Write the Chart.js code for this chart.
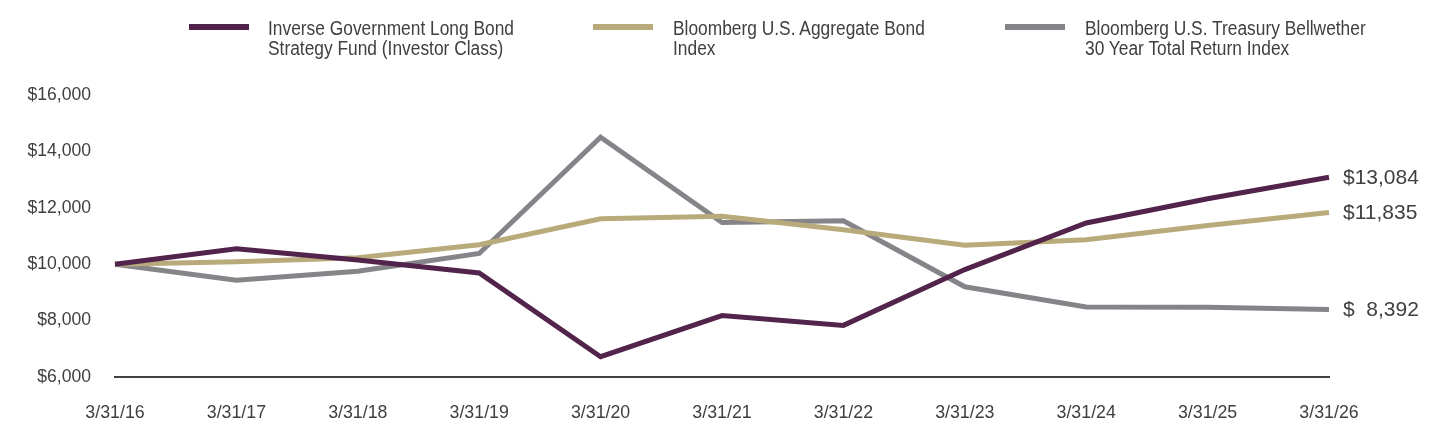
<!DOCTYPE html>
<html>
<head>
<meta charset="utf-8">
<script src="https://cdn.jsdelivr.net/npm/chart.js@4.4.1/dist/chart.umd.min.js"></script>
<style>
  html, body { margin: 0; padding: 0; background: #ffffff; }
  #wrap { position: relative; width: 1440px; height: 444px; overflow: hidden; }
  #c { position: absolute; left: 0; top: 0; }
  .leg { position: absolute; top: 18px; font-family: "Liberation Sans", Arial, sans-serif; font-size: 19.5px; line-height: 20px; color: #404040; white-space: nowrap; transform: scaleX(0.89); transform-origin: 0 0; }
  .sw { position: absolute; top: 24px; width: 60px; height: 6px; }
</style>
</head>
<body>
<div id="wrap">
  <canvas id="c" width="1440" height="444"></canvas>
</div>
<script>
const categories = ["3/31/16","3/31/17","3/31/18","3/31/19","3/31/20","3/31/21","3/31/22","3/31/23","3/31/24","3/31/25","3/31/26"];
const fundValues = [10000, 10550, 10150, 9690, 6720, 8180, 7830, 9810, 11460, 12320, 13084];
const aggValues = [10000, 10090, 10230, 10690, 11610, 11700, 11220, 10670, 10870, 11370, 11835];
const treasuryValues = [10000, 9430, 9750, 10380, 14500, 11480, 11540, 9200, 8480, 8470, 8392];
const seriesNames = [
  ["Inverse Government Long Bond", "Strategy Fund (Investor Class)"],
  ["Bloomberg U.S. Aggregate Bond", "Index"],
  ["Bloomberg U.S. Treasury Bellwether", "30 Year Total Return Index"]
];
const endLabels = ["$13,084", "$11,835", "$  8,392"];
const yTicks = [6000, 8000, 10000, 12000, 14000, 16000];
const colors = ["#52234b", "#b9aa7b", "#858589"];

// HTML legend
const legendX = [189, 593, 1005];
const textX = [268, 673, 1085];
const wrap = document.getElementById('wrap');
seriesNames.forEach((lines, i) => {
  const sw = document.createElement('div');
  sw.className = 'sw';
  sw.style.left = legendX[i] + 'px';
  sw.style.background = colors[i];
  wrap.appendChild(sw);
  const t = document.createElement('div');
  t.className = 'leg';
  t.style.left = textX[i] + 'px';
  t.innerHTML = lines.join('<br>');
  wrap.appendChild(t);
});

const sans = '"Liberation Sans", Arial, sans-serif';

const endLabelPlugin = {
  id: 'endLabels',
  afterDatasetsDraw(chart) {
    const ctx = chart.ctx;
    ctx.save();
    ctx.font = '21px ' + sans;
    ctx.fillStyle = '#404040';
    ctx.textAlign = 'left';
    ctx.textBaseline = 'middle';
    chart.data.datasets.forEach((ds, i) => {
      const meta = chart.getDatasetMeta(i);
      const pt = meta.data[meta.data.length - 1];
      ctx.fillText(endLabels[i], pt.x + 14, pt.y + 1);
    });
    ctx.restore();
  }
};

new Chart(document.getElementById('c'), {
  type: 'line',
  data: {
    labels: categories,
    datasets: [
      { label: seriesNames[0].join(' '), data: fundValues, borderColor: colors[0] },
      { label: seriesNames[1].join(' '), data: aggValues, borderColor: colors[1] },
      { label: seriesNames[2].join(' '), data: treasuryValues, borderColor: colors[2] }
    ].map(d => Object.assign(d, {
      borderWidth: 5, pointRadius: 0, fill: false, tension: 0,
      borderJoinStyle: 'miter', borderCapStyle: 'butt'
    }))
  },
  options: {
    responsive: false,
    animation: false,
    devicePixelRatio: 1,
    layout: { padding: { left: 0, right: 111, top: 95, bottom: 0 } },
    plugins: { legend: { display: false }, tooltip: { enabled: false } },
    scales: {
      x: {
        grid: { display: false, drawTicks: false },
        border: { display: true, color: '#404040', width: 2 },
        ticks: { color: '#404040', font: { family: sans, size: 17.8 }, padding: 25, maxRotation: 0, autoSkip: false },
        afterFit(scale) { scale.height = 67; }
      },
      y: {
        min: 6000, max: 16000,
        grid: { display: false, drawTicks: false },
        border: { display: false },
        afterBuildTicks(scale) { scale.ticks = yTicks.map(v => ({ value: v })); },
        ticks: {
          color: '#404040', font: { family: sans, size: 17.6 }, padding: 24,
          callback: v => '$' + v.toLocaleString('en-US')
        },
        afterFit(scale) { scale.width = 115; }
      }
    }
  },
  plugins: [endLabelPlugin]
});
</script>
</body>
</html>
